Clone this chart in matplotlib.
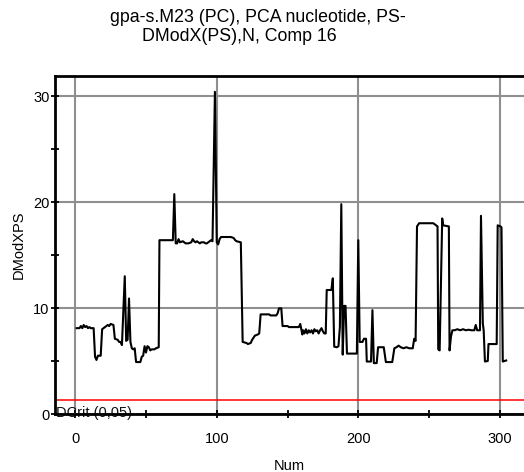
import matplotlib
matplotlib.use("Agg")
import matplotlib.pyplot as plt
from matplotlib.ticker import MultipleLocator

plt.rcParams['font.family'] = ['Liberation Sans', 'DejaVu Sans']

# Observation number (x) and DModX(PS) value (y) at the vertices of the trace
num = [1, 3, 4, 5, 6, 7, 8, 9, 10, 11, 13, 14, 15, 16, 18, 19, 21, 23, 24, 25, 27,
       28, 30, 31, 32, 33, 35, 36, 37, 38, 39, 40, 41, 42, 43, 46, 47, 48, 49, 50,
       51, 52, 53, 54, 56, 57, 59,
       59.5, 69, 70, 71, 72, 73, 74, 76, 78, 80, 82, 83, 84, 85, 86, 88, 89, 91, 92,
       93, 95, 96, 97, 98.7, 100, 101, 102, 103, 105, 110, 112, 113, 114, 117,
       118.3, 121, 122, 124, 125, 127, 129, 130, 131, 137, 138, 142, 143, 144, 145.6,
       146.5, 150, 151, 158, 159, 160.5, 161, 162, 163, 164, 165, 166, 167, 168, 169,
       170, 171, 172, 173, 174, 175, 176, 177,
       177.7, 181, 182, 183, 185, 186, 187, 188, 189, 190, 191, 192, 199, 200, 201,
       203, 204, 205.5, 206, 209, 210, 211, 213, 214, 218, 219.5, 224, 225.5, 227,
       228.5, 230, 232, 234, 236, 238.5, 239.5, 240.5, 241.5, 243, 253, 255, 256,
       256.5, 257.5, 259.3, 260, 264, 264.5, 265.5, 266.5, 268, 270, 272, 274, 276,
       278, 280, 282, 283, 284, 286, 286.7, 288, 288.6, 289.5, 291.5, 292, 297.8,
       298.5, 300.5, 301.2, 302.1, 304.5]
dmodx = [8.1, 8.1, 8.3, 8.1, 8.4, 8.2, 8.3, 8.1, 8.2, 8.1, 8.1, 5.4, 5.1, 5.5, 5.5, 8.0,
         8.2, 8.4, 8.3, 8.5, 8.4,
         7.1, 7.0, 6.8, 6.8, 6.5, 13.0, 6.9, 7.0, 10.9, 6.8, 6.2, 6.1, 6.2, 4.9, 4.9,
         5.4, 5.5, 6.4, 5.8, 6.4, 6.3, 6.0, 6.1, 6.1, 6.2, 6.3,
         16.4, 16.4, 20.75, 16.1, 16.1, 16.5, 16.2, 16.3, 16.1, 16.1, 16.2, 16.5, 16.3,
         16.2, 16.3, 16.1, 16.2, 16.2, 16.1, 16.1, 16.3, 16.4, 16.3, 30.4, 16.2, 16.0,
         16.5, 16.7, 16.7, 16.7, 16.6, 16.4, 16.3, 16.2,
         6.8, 6.7, 6.6, 6.7, 7.0, 7.4, 7.5, 7.6, 9.4, 9.4, 9.3, 9.3, 9.5, 9.97, 9.97,
         8.3, 8.3, 8.2, 8.2, 8.5, 7.5, 7.9, 7.6, 8.0, 7.6, 7.9, 7.7, 7.9, 7.6, 8.0,
         7.8, 7.9, 7.6, 7.9, 8.1, 7.8, 7.6, 7.6,
         11.7, 11.7, 12.8, 6.35, 6.3, 6.4, 8.2, 19.8, 5.6, 10.2, 10.2, 5.7, 5.7, 16.4,
         6.8, 6.8, 7.1, 7.1, 4.95, 4.95, 9.8, 4.8, 4.8, 6.3, 6.3, 4.9, 4.9, 6.2, 6.3,
         6.45, 6.3, 6.2, 6.3, 6.2, 6.2, 7.1, 6.9, 17.7, 18.0, 18.0, 17.8, 17.7,
         6.1, 6.0, 18.45, 17.8, 17.7, 6.0, 7.3, 7.9, 7.9, 8.0, 7.9, 8.0, 7.9,
         7.95, 7.9, 7.9, 8.4, 7.9, 7.9, 18.7, 8.55, 7.9, 4.95, 5.0, 6.6, 6.6,
         17.8, 17.7, 17.6, 4.95, 5.05]

dcrit = 1.32
dcrit_label = "DCrit (0,05)"
title_line1 = "gpa-s.M23 (PC), PCA nucleotide, PS-"
title_line2 = "DModX(PS),N, Comp 16"
xlabel = "Num"
ylabel = "DModXPS"

W, H = 524, 472
fig = plt.figure(figsize=(W / 100, H / 100), dpi=100)
left_px, right_px, top_px, bot_px = 55, 524, 75.7, 414
ax = fig.add_axes([left_px / W, (H - bot_px) / H, (right_px - left_px) / W,
                   (bot_px - top_px) / H])

ax.set_xlim(-14.3, 317.1)
ax.set_ylim(0, 31.92)

ax.xaxis.set_major_locator(MultipleLocator(100))
ax.xaxis.set_minor_locator(MultipleLocator(50))
ax.yaxis.set_major_locator(MultipleLocator(10))
ax.yaxis.set_minor_locator(MultipleLocator(5))

ax.grid(True, which='major', color='#8f8f8f', linewidth=1.5)
ax.set_axisbelow(True)

ax.plot(num, dmodx, color='black', linewidth=1.5, zorder=3)
ax.axhline(dcrit, color='#ff0000', linewidth=1.1, zorder=3)
ax.text(-13.4, -0.3, dcrit_label, fontsize=10.5, ha='left', va='baseline',
        color='#111111', zorder=1, clip_on=False)

for s in ['left', 'top', 'bottom']:
    ax.spines[s].set_linewidth(2)
    ax.spines[s].set_color('black')
    ax.spines[s].set_zorder(5)
ax.spines['right'].set_visible(False)

ax.tick_params(axis='both', which='both', direction='inout', color='black', width=1.3)
ax.tick_params(axis='both', which='major', length=6, labelsize=10.5)
ax.tick_params(axis='both', which='minor', length=6)
ax.tick_params(axis='x', which='major', pad=10)
ax.tick_params(axis='y', which='major', pad=1)

ax.set_xlabel(xlabel, fontsize=10.5, labelpad=9)
ax.set_ylabel(ylabel, fontsize=10.5, labelpad=5)

fig.text(110 / W, 1 - 22.3 / H, title_line1, fontsize=12.8, ha='left', va='baseline')
fig.text(142 / W, 1 - 41 / H, title_line2, fontsize=12.8, ha='left', va='baseline')

fig.savefig("out.png", dpi=100)
